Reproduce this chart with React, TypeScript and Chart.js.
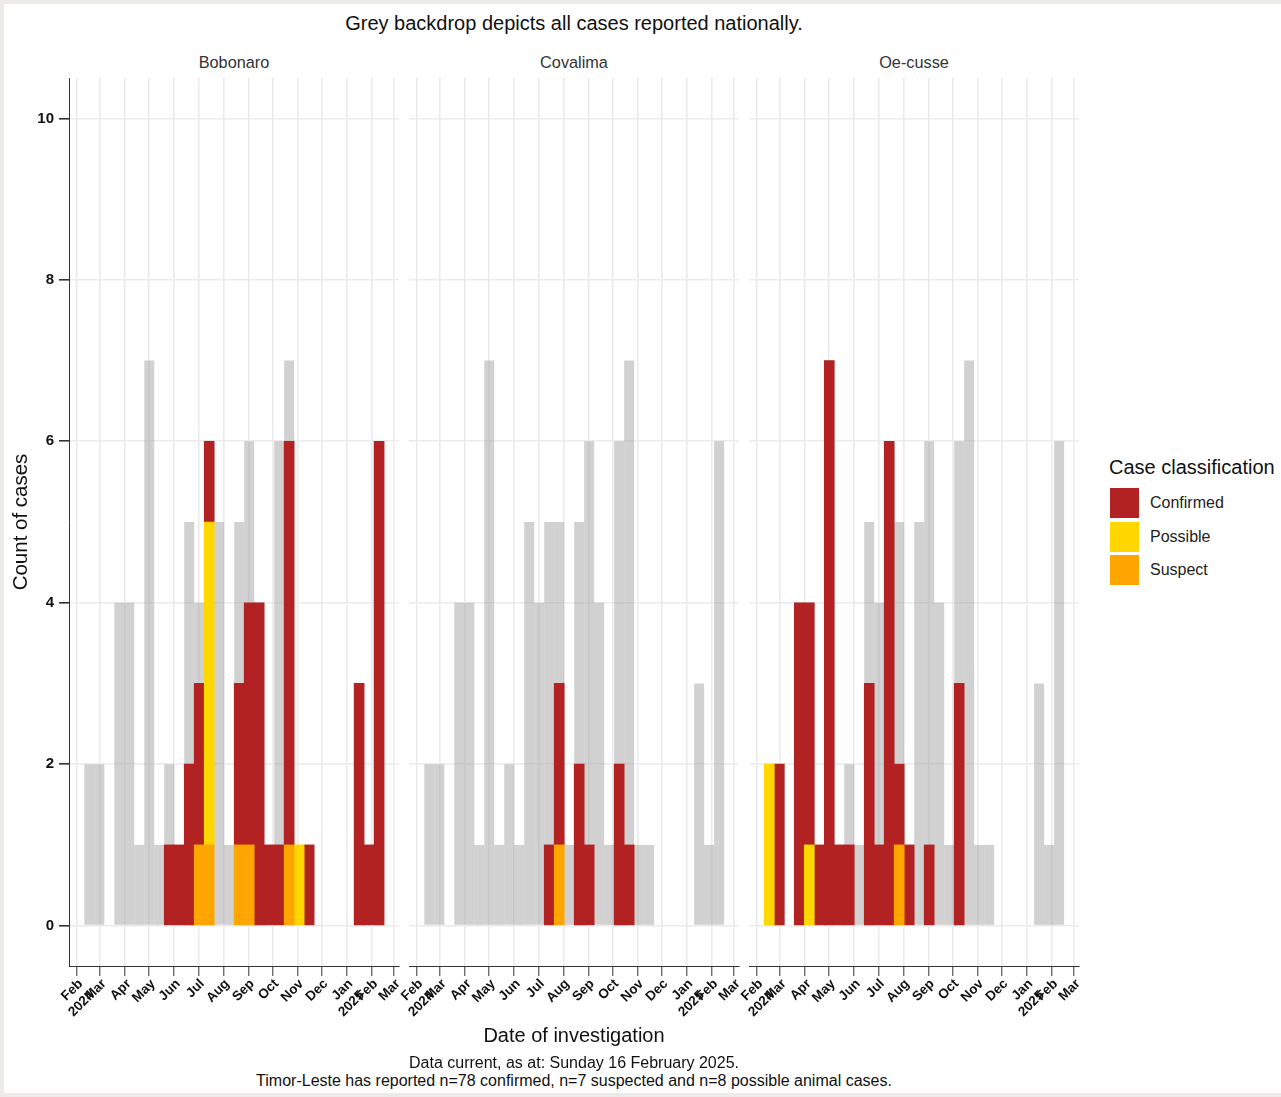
import React, { useEffect, useRef } from 'react';
import { Chart, registerables } from 'chart.js';

Chart.register(...registerables);

const FONT = "'Liberation Sans', Arial, Helvetica, sans-serif";

// ---- data (30 histogram bins, Feb 2024 – Feb 2025) ----
const BIN_START_DAY = 9.5; // days after 1 Feb 2024 where the first bin starts
const BIN_WIDTH_DAYS = 12.4;

const nationalBackdrop = [2, 2, 0, 4, 4, 1, 7, 1, 2, 1, 5, 4, 5, 5, 1, 5, 6, 4, 1, 6, 7, 1, 1, 0, 0, 0, 0, 3, 1, 6];

const bobonaroConfirmed = [0, 0, 0, 0, 0, 0, 0, 0, 1, 1, 2, 2, 1, 0, 0, 2, 3, 4, 1, 1, 5, 0, 1, 0, 0, 0, 0, 3, 1, 6];
const bobonaroPossible = [0, 0, 0, 0, 0, 0, 0, 0, 0, 0, 0, 0, 4, 0, 0, 0, 0, 0, 0, 0, 0, 1, 0, 0, 0, 0, 0, 0, 0, 0];
const bobonaroSuspect = [0, 0, 0, 0, 0, 0, 0, 0, 0, 0, 0, 1, 1, 0, 0, 1, 1, 0, 0, 0, 1, 0, 0, 0, 0, 0, 0, 0, 0, 0];

const covalimaConfirmed = [0, 0, 0, 0, 0, 0, 0, 0, 0, 0, 0, 0, 1, 2, 0, 2, 1, 0, 0, 2, 1, 0, 0, 0, 0, 0, 0, 0, 0, 0];
const covalimaPossible = [0, 0, 0, 0, 0, 0, 0, 0, 0, 0, 0, 0, 0, 0, 0, 0, 0, 0, 0, 0, 0, 0, 0, 0, 0, 0, 0, 0, 0, 0];
const covalimaSuspect = [0, 0, 0, 0, 0, 0, 0, 0, 0, 0, 0, 0, 0, 1, 0, 0, 0, 0, 0, 0, 0, 0, 0, 0, 0, 0, 0, 0, 0, 0];

const oecusseConfirmed = [0, 2, 0, 4, 3, 1, 7, 1, 1, 0, 3, 1, 6, 1, 1, 0, 1, 0, 0, 3, 0, 0, 0, 0, 0, 0, 0, 0, 0, 0];
const oecussePossible = [2, 0, 0, 0, 1, 0, 0, 0, 0, 0, 0, 0, 0, 0, 0, 0, 0, 0, 0, 0, 0, 0, 0, 0, 0, 0, 0, 0, 0, 0];
const oecusseSuspect = [0, 0, 0, 0, 0, 0, 0, 0, 0, 0, 0, 0, 0, 1, 0, 0, 0, 0, 0, 0, 0, 0, 0, 0, 0, 0, 0, 0, 0, 0];

const districtNames = ['Bobonaro', 'Covalima', 'Oe-cusse'];
const confirmedByDistrict = [bobonaroConfirmed, covalimaConfirmed, oecusseConfirmed];
const possibleByDistrict = [bobonaroPossible, covalimaPossible, oecussePossible];
const suspectByDistrict = [bobonaroSuspect, covalimaSuspect, oecusseSuspect];

const monthTickDates = [
  '2024-02-01', '2024-03-01', '2024-04-01', '2024-05-01', '2024-06-01', '2024-07-01', '2024-08-01',
  '2024-09-01', '2024-10-01', '2024-11-01', '2024-12-01', '2025-01-01', '2025-02-01', '2025-03-01',
];
const monthTickLabels: (string | string[])[] = [
  ['Feb', '2024'], 'Mar', 'Apr', 'May', 'Jun', 'Jul', 'Aug', 'Sep', 'Oct', 'Nov', 'Dec', ['Jan', '2025'], 'Feb', 'Mar',
];
const yTicks = [0, 2, 4, 6, 8, 10];

const classNames = ['Confirmed', 'Possible', 'Suspect'];
const classColors = ['#B22222', '#FFD700', '#FFA500'];
const BACKDROP_COLOR = 'rgba(163,163,163,0.5)';

const ORIGIN = Date.UTC(2024, 1, 1);
const dayOf = (s: string) => (Date.parse(s + 'T00:00:00Z') - ORIGIN) / 86400000;
const X_MIN = -9.5;
const X_MAX = 400;

// ---- layout ----
const PANEL_LEFTS = [0, 340, 680];
const CANVAS_TOP = 70;
const CANVAS_W = 406;
const CANVAS_H = 960;
const Y_AXIS_W = 69;
const X_AXIS_H = 64;

function Panel({ idx }: { idx: number }) {
  const ref = useRef<HTMLCanvasElement | null>(null);
  useEffect(() => {
    if (!ref.current) return;
    const centers = nationalBackdrop.map((_, i) => BIN_START_DAY + BIN_WIDTH_DAYS * (i + 0.5));
    const pts = (arr: number[]) => arr.map((v, i) => ({ x: centers[i], y: v === 0 ? null : v }));
    const monthTicks = monthTickDates.map(dayOf);
    const first = idx === 0;
    const common = { grouped: false, barPercentage: 1, categoryPercentage: 1, borderWidth: 0 };
    const chart = new Chart(ref.current, {
      type: 'bar',
      data: {
        datasets: [
          { ...common, label: 'National', data: pts(nationalBackdrop), backgroundColor: BACKDROP_COLOR, stack: 'bg', order: 10, inflateAmount: 0 },
          { ...common, label: 'Suspect', data: pts(suspectByDistrict[idx]), backgroundColor: classColors[2], stack: 'fg', order: 1 },
          { ...common, label: 'Possible', data: pts(possibleByDistrict[idx]), backgroundColor: classColors[1], stack: 'fg', order: 2 },
          { ...common, label: 'Confirmed', data: pts(confirmedByDistrict[idx]), backgroundColor: classColors[0], stack: 'fg', order: 3 },
        ] as any,
      },
      options: {
        animation: false,
        responsive: false,
        maintainAspectRatio: false,
        layout: { padding: { top: 8, right: 7, left: 0, bottom: 0 } },
        plugins: { legend: { display: false }, tooltip: { enabled: false }, title: { display: false } },
        scales: {
          x: {
            type: 'linear',
            min: X_MIN,
            max: X_MAX,
            offset: false,
            grid: { offset: false, color: '#ebebeb', lineWidth: 1.6, tickColor: '#333333', tickLength: 10, tickWidth: 1 },
            border: { display: true, color: '#333333', width: 1 },
            ticks: {
              autoSkip: false,
              maxRotation: 45,
              minRotation: 45,
              padding: 0,
              labelOffset: 4,
              color: '#111111',
              font: { family: FONT, size: 13.5, weight: 'bold' },
              callback: (_v: any, i: number) => monthTickLabels[i],
            },
            afterBuildTicks: (s: any) => {
              s.ticks = monthTicks.map((v) => ({ value: v }));
            },
            afterFit: (s: any) => {
              s.height = X_AXIS_H;
              s.paddingLeft = 0;
              s.paddingRight = 0;
            },
          },
          y: {
            type: 'linear',
            stacked: true,
            min: -0.5,
            max: 10.5,
            grid: { color: '#ebebeb', lineWidth: 1.6, tickColor: '#333333', tickLength: 10, drawTicks: first },
            border: { display: first, color: '#333333', width: 1 },
            ticks: {
              display: first,
              padding: 5,
              color: '#111111',
              font: { family: FONT, size: 15, weight: 'bold' },
            },
            title: {
              display: first,
              text: 'Count of cases',
              color: '#111111',
              font: { family: FONT, size: 20.5 },
              padding: { top: 9, bottom: 0 },
            },
            afterBuildTicks: (s: any) => {
              s.ticks = yTicks.map((v) => ({ value: v }));
            },
            afterFit: (s: any) => {
              s.width = Y_AXIS_W;
              s.paddingTop = 0;
              s.paddingBottom = 0;
            },
          },
        },
      } as any,
    });
    return () => chart.destroy();
  }, [idx]);
  return (
    <canvas
      ref={ref}
      width={CANVAS_W}
      height={CANVAS_H}
      style={{ position: 'absolute', left: PANEL_LEFTS[idx], top: CANVAS_TOP, width: CANVAS_W, height: CANVAS_H }}
    />
  );
}

function Txt({ x, y, size, children, align = 'center', color = '#111111' }: any) {
  const tx = align === 'center' ? '-50%' : '0';
  return (
    <div
      style={{
        position: 'absolute',
        left: x,
        top: y,
        transform: `translate(${tx}, -50%)`,
        fontFamily: FONT,
        fontSize: size,
        lineHeight: `${size * 1.15}px`,
        color,
        whiteSpace: 'nowrap',
      }}
    >
      {children}
    </div>
  );
}

export default function App() {
  const stripCenters = [234, 574, 914];
  return (
    <div style={{ position: 'fixed', left: 0, top: 0, width: 1281, height: 1097, background: '#ecebe8', overflow: 'hidden' }}>
      <div style={{ position: 'absolute', left: 4, top: 4, width: 1277, height: 1089, background: '#ffffff' }} />
      <Txt x={574} y={23} size={20}>Grey backdrop depicts all cases reported nationally.</Txt>
      {districtNames.map((n, i) => (
        <Txt key={n} x={stripCenters[i]} y={62} size={16.3} color="#333333">{n}</Txt>
      ))}
      {[0, 1, 2].map((i) => (
        <Panel key={i} idx={i} />
      ))}
      <Txt x={574} y={1035} size={20}>Date of investigation</Txt>
      <Txt x={574} y={1063} size={16}>Data current, as at: Sunday 16 February 2025.</Txt>
      <Txt x={574} y={1081} size={16}>Timor-Leste has reported n=78 confirmed, n=7 suspected and n=8 possible animal cases.</Txt>
      <Txt x={1109} y={467} size={20} align="left">Case classification</Txt>
      {classNames.map((c, i) => (
        <React.Fragment key={c}>
          <div
            style={{ position: 'absolute', left: 1110, top: 488 + i * 33.5, width: 29, height: 30, background: classColors[i] }}
          />
          <Txt x={1150} y={503 + i * 33.5} size={16} align="left" color="#222222">{c}</Txt>
        </React.Fragment>
      ))}
    </div>
  );
}
